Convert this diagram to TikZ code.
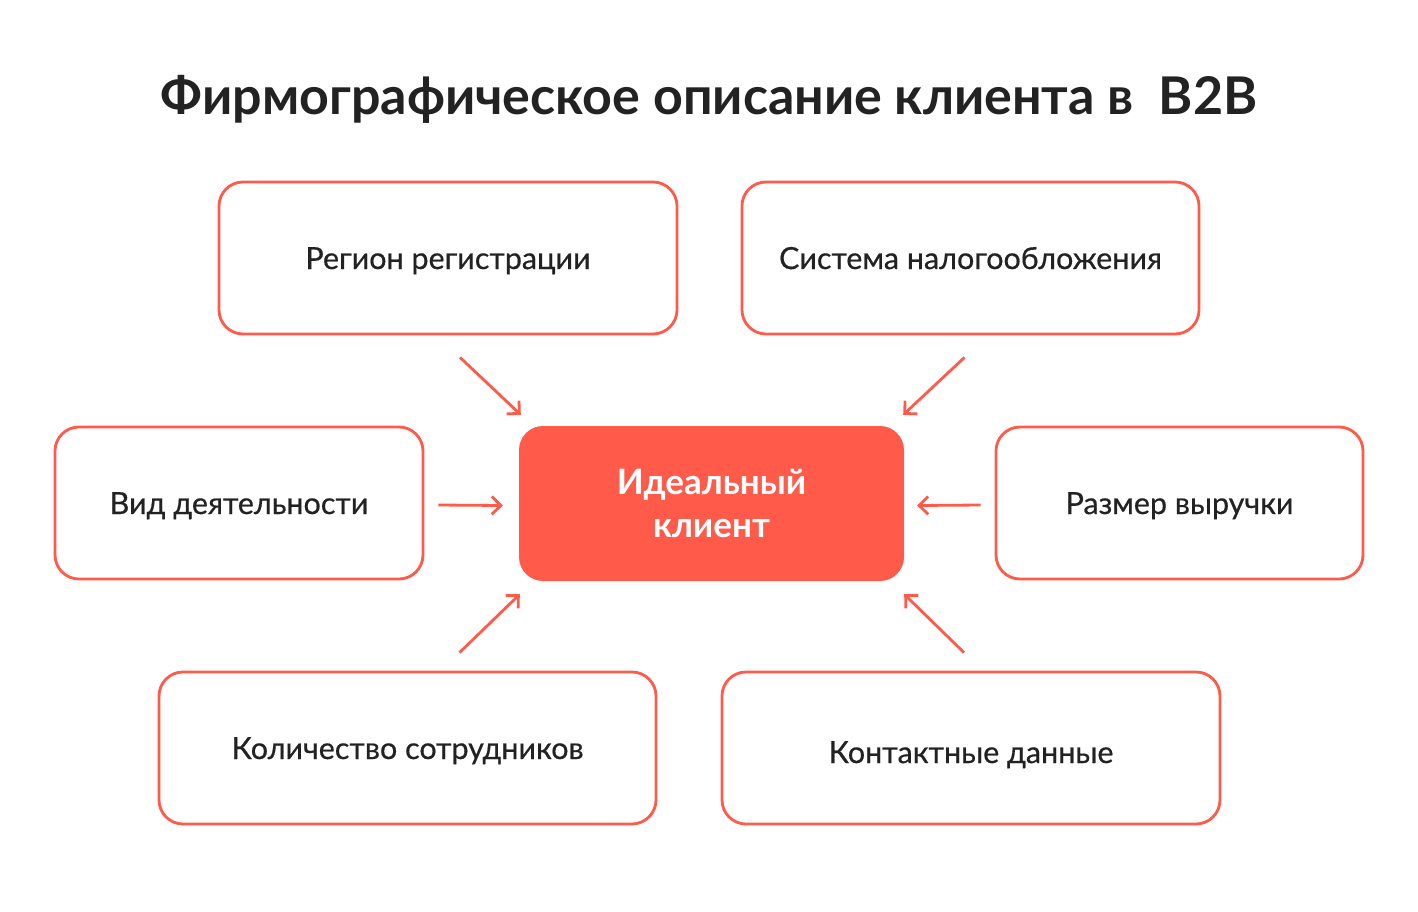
\documentclass[tikz,border=0pt]{standalone}
\usepackage{fontspec}
\setmainfont{Lato}
\newfontfamily\medfont{Lato}[FakeBold=0.5]
\usetikzlibrary{positioning,calc,arrows.meta}
\definecolor{coral}{HTML}{FF5A4A}
\definecolor{ink}{HTML}{222222}
\tikzset{
  factor/.style={draw=coral, line width=2.8pt, rounded corners=24pt,
    minimum height=152pt, text=ink, inner sep=0pt,
    text height=34pt, text depth=12pt,
    font=\medfont\fontsize{30.5}{34}\selectfont},
  core/.style={fill=coral, rounded corners=24pt, minimum width=385pt,
    minimum height=155pt, text=white, align=center,
    font=\bfseries\fontsize{35}{43}\selectfont},
  arr/.style={coral, line width=2.8pt,
    -{Straight Barb[length=9pt,width=18pt]}}
}
\begin{document}
\begin{tikzpicture}[x=1pt, y=-1pt]
  \useasboundingbox (0,0) rectangle (1418,911);
  % Title
  \node[anchor=base, text=ink, font=\bfseries\fontsize{52}{60}\selectfont]
    (title) at (709,114) {Фирмографическое описание клиента в \ B2B};
  % Center
  \node[core] (ideal) at (711.5,503.5) {Идеальный\\клиент};
  % Factors around it
  \node[factor, minimum width=458pt] (region) at (448,258) {Регион регистрации};
  \node[factor, minimum width=457pt] (tax) at (970.5,258) {Система налогообложения};
  \node[factor, minimum width=368pt] (activity) at (239,503) {Вид деятельности};
  \node[factor, minimum width=367pt] (revenue) at (1179.5,503) {Размер выручки};
  \node[factor, minimum width=497pt] (staff) at (407.5,748) {Количество сотрудников};
  \node[factor, minimum width=498pt, text depth=4pt] (contacts) at (971,748) {Контактные данные};
  % Arrows towards the center
  \draw[arr] ($(region.south)+(12,22)$) -- ($(ideal.north west)+(2,-11)$);
  \draw[arr] ($(tax.south)+(-6,22)$) -- ($(ideal.north east)+(-1,-11)$);
  \draw[arr] ($(activity.east)+(14,2)$) -- ($(ideal.west)+(-16,2)$);
  \draw[arr] ($(revenue.west)+(-14,2)$) -- ($(ideal.east)+(13,2)$);
  \draw[arr] ($(staff.north)+(52,-18)$) -- ($(ideal.south west)+(1,13)$);
  \draw[arr] ($(contacts.north)+(-7,-18)$) -- ($(ideal.south east)+(0,13)$);
\end{tikzpicture}
\end{document}
